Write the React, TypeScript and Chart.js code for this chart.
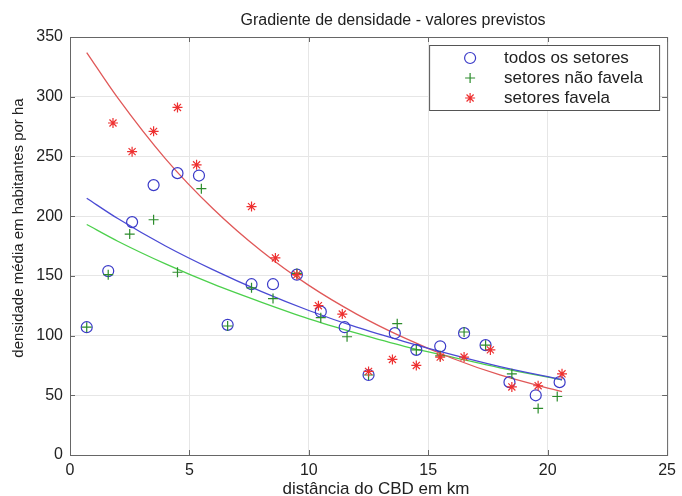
import React, { useEffect, useRef } from "react";
import { Chart, registerables } from "chart.js";

Chart.register(...registerables);

const FONT = "'Liberation Sans', Arial, Helvetica, sans-serif";

const chartTitle = "Gradiente de densidade - valores previstos";
const xAxisTitle = "distância do CBD em km";
const yAxisTitle = "densidade média em habitantes por ha";
const legendLabels = ["todos os setores", "setores não favela", "setores favela"];

const xTicks = [0, 5, 10, 15, 20, 25];
const yTicks = [0, 50, 100, 150, 200, 250, 300, 350];

// todos os setores (circles)
const todosX = [0.7, 1.6, 2.6, 3.5, 4.5, 5.4, 6.6, 7.6, 8.5, 9.5, 10.5, 11.5, 12.5, 13.6, 14.5, 15.5, 16.5, 17.4, 18.4, 19.5, 20.5];
const todosY = [107, 154, 195, 226, 236, 234, 109, 143, 143, 151, 120, 107, 67, 102, 88, 91, 102, 92, 61, 50, 61];

// setores não favela (+)
const naoX = [0.7, 1.6, 2.5, 3.5, 4.5, 5.5, 6.6, 7.6, 8.5, 9.5, 10.5, 11.6, 12.5, 13.7, 14.5, 15.5, 16.5, 17.4, 18.5, 19.6, 20.4];
const naoY = [107, 151, 185, 197, 153, 223, 108, 140, 131, 152, 115, 99, 67, 110, 88, 83, 103, 92, 68, 39, 49];

// setores favela (*)
const favX = [1.8, 2.6, 3.5, 4.5, 5.3, 7.6, 8.6, 9.5, 10.4, 11.4, 12.5, 13.5, 14.5, 15.5, 16.5, 17.6, 18.5, 19.6, 20.6];
const favY = [278, 254, 271, 291, 243, 208, 165, 151, 125, 118, 70, 80, 75, 82, 82, 88, 57, 58, 68];

// fitted curves
const fitX = [0.7, 2, 4, 6, 8, 10, 12, 14, 16, 18, 20.6];
const fitTodos = [215, 198, 175, 155, 137, 121, 107, 95, 84, 74, 63];
const fitNao = [193, 179, 160, 143, 128, 114, 102, 91, 82, 73, 63];
const fitFav = [337, 299, 248, 206, 171, 142, 118, 98, 81, 67, 53];

const BLUE_M = "#3a3ac8";
const GREEN_M = "#2c8c2c";
const RED_M = "#ee3030";
const BLUE_L = "#4a4ad4";
const GREEN_L = "#4cd04c";
const RED_L = "#e05858";

const pts = (xs: number[], ys: number[]) => xs.map((x, i) => ({ x, y: ys[i] }));

function drawMarker(ctx: CanvasRenderingContext2D, kind: string, x: number, y: number) {
  ctx.save();
  ctx.lineWidth = 1.2;
  if (kind === "circle") {
    ctx.strokeStyle = BLUE_M;
    ctx.beginPath();
    ctx.arc(x, y, 5.5, 0, Math.PI * 2);
    ctx.stroke();
  } else if (kind === "cross") {
    ctx.strokeStyle = GREEN_M;
    ctx.beginPath();
    ctx.moveTo(x - 5, y);
    ctx.lineTo(x + 5, y);
    ctx.moveTo(x, y - 5);
    ctx.lineTo(x, y + 5);
    ctx.stroke();
  } else {
    ctx.strokeStyle = RED_M;
    const r = 5;
    const d = r * Math.SQRT1_2;
    ctx.beginPath();
    ctx.moveTo(x - r, y);
    ctx.lineTo(x + r, y);
    ctx.moveTo(x, y - r);
    ctx.lineTo(x, y + r);
    ctx.moveTo(x - d, y - d);
    ctx.lineTo(x + d, y + d);
    ctx.moveTo(x - d, y + d);
    ctx.lineTo(x + d, y - d);
    ctx.stroke();
  }
  ctx.restore();
}

const decorPlugin = {
  id: "decor",
  afterDraw(chart: any) {
    const { ctx, chartArea, scales } = chart;
    const { left, right, top, bottom } = chartArea;
    ctx.save();
    // frame
    ctx.strokeStyle = "#666";
    ctx.lineWidth = 1;
    ctx.strokeRect(left + 0.5, top + 0.5, right - left, bottom - top);
    // inner ticks
    ctx.beginPath();
    xTicks.forEach((v) => {
      const px = Math.round(scales.x.getPixelForValue(v)) + 0.5;
      ctx.moveTo(px, bottom);
      ctx.lineTo(px, bottom - 5);
      ctx.moveTo(px, top);
      ctx.lineTo(px, top + 5);
    });
    yTicks.forEach((v) => {
      const py = Math.round(scales.y.getPixelForValue(v)) + 0.5;
      ctx.moveTo(left, py);
      ctx.lineTo(left + 5, py);
      ctx.moveTo(right, py);
      ctx.lineTo(right - 5, py);
    });
    ctx.stroke();

    // legend
    const bx = right - 238;
    const by = top + 8;
    const bw = 230;
    const bh = 65;
    ctx.fillStyle = "#fff";
    ctx.fillRect(bx, by, bw, bh);
    ctx.strokeStyle = "#555";
    ctx.lineWidth = 1;
    ctx.strokeRect(bx + 0.5, by + 0.5, bw, bh);
    const kinds = ["circle", "cross", "star"];
    ctx.font = `17px ${FONT}`;
    ctx.textBaseline = "middle";
    ctx.textAlign = "left";
    legendLabels.forEach((lab, i) => {
      const ry = by + 13 + i * 20;
      drawMarker(ctx, kinds[i], bx + 41, ry);
      ctx.fillStyle = "#222";
      ctx.fillText(lab, bx + 75, ry);
    });

    // title
    ctx.fillStyle = "#222";
    ctx.font = `16px ${FONT}`;
    ctx.textAlign = "center";
    ctx.textBaseline = "alphabetic";
    ctx.fillText(chartTitle, 393, 25);

    // x axis title
    ctx.font = `17px ${FONT}`;
    ctx.textBaseline = "middle";
    ctx.fillText(xAxisTitle, 376, 489);

    // y axis title
    ctx.save();
    ctx.translate(19, 228);
    ctx.rotate(-Math.PI / 2);
    ctx.font = `15px ${FONT}`;
    ctx.fillText(yAxisTitle, 0, 0);
    ctx.restore();

    ctx.restore();
  },
};

export default function App() {
  const ref = useRef<HTMLCanvasElement | null>(null);

  useEffect(() => {
    if (!ref.current) return;
    Chart.defaults.font.family = FONT;
    const chart = new Chart(ref.current, {
      type: "scatter",
      data: {
        datasets: [
          {
            label: "fit favela",
            data: pts(fitX, fitFav),
            showLine: true,
            borderColor: RED_L,
            borderWidth: 1.3,
            pointRadius: 0,
            cubicInterpolationMode: "monotone",
            order: 5,
          },
          {
            label: "fit todos",
            data: pts(fitX, fitTodos),
            showLine: true,
            borderColor: BLUE_L,
            borderWidth: 1.3,
            pointRadius: 0,
            cubicInterpolationMode: "monotone",
            order: 4,
          },
          {
            label: "fit não favela",
            data: pts(fitX, fitNao),
            showLine: true,
            borderColor: GREEN_L,
            borderWidth: 1.3,
            pointRadius: 0,
            cubicInterpolationMode: "monotone",
            order: 6,
          },
          {
            label: legendLabels[0],
            data: pts(todosX, todosY),
            pointStyle: "circle",
            pointRadius: 5.5,
            borderColor: BLUE_M,
            backgroundColor: "rgba(0,0,0,0)",
            pointBorderWidth: 1.2,
            order: 3,
          },
          {
            label: legendLabels[1],
            data: pts(naoX, naoY),
            pointStyle: "cross",
            pointRadius: 5,
            borderColor: GREEN_M,
            backgroundColor: GREEN_M,
            pointBorderWidth: 1.2,
            order: 2,
          },
          {
            label: legendLabels[2],
            data: pts(favX, favY),
            pointStyle: "star",
            pointRadius: 5,
            borderColor: RED_M,
            backgroundColor: RED_M,
            pointBorderWidth: 1.2,
            order: 1,
          },
        ],
      } as any,
      options: {
        animation: false,
        responsive: false,
        maintainAspectRatio: false,
        layout: { padding: { top: 37, right: 13, left: 0, bottom: 0 } },
        plugins: {
          legend: { display: false },
          title: { display: false },
          tooltip: { enabled: false },
        },
        scales: {
          x: {
            type: "linear",
            min: 0,
            max: 25,
            ticks: { stepSize: 5, padding: 6, color: "#222", font: { size: 16 } },
            grid: { color: "#e6e6e6", drawTicks: false },
            border: { display: true, color: "#666" },
            afterFit: (s: any) => {
              s.height = 41;
            },
          },
          y: {
            type: "linear",
            min: 0,
            max: 350,
            ticks: { stepSize: 50, padding: 7, color: "#222", font: { size: 16 } },
            grid: { color: "#e6e6e6", drawTicks: false },
            border: { display: true, color: "#666" },
            afterFit: (s: any) => {
              s.width = 70;
            },
          },
        },
      } as any,
      plugins: [decorPlugin],
    });
    return () => chart.destroy();
  }, []);

  return (
    <div style={{ position: "fixed", left: 0, top: 0, width: 682, height: 496, background: "#fff" }}>
      <canvas ref={ref} width={682} height={496} style={{ width: 682, height: 496, display: "block" }} />
    </div>
  );
}
